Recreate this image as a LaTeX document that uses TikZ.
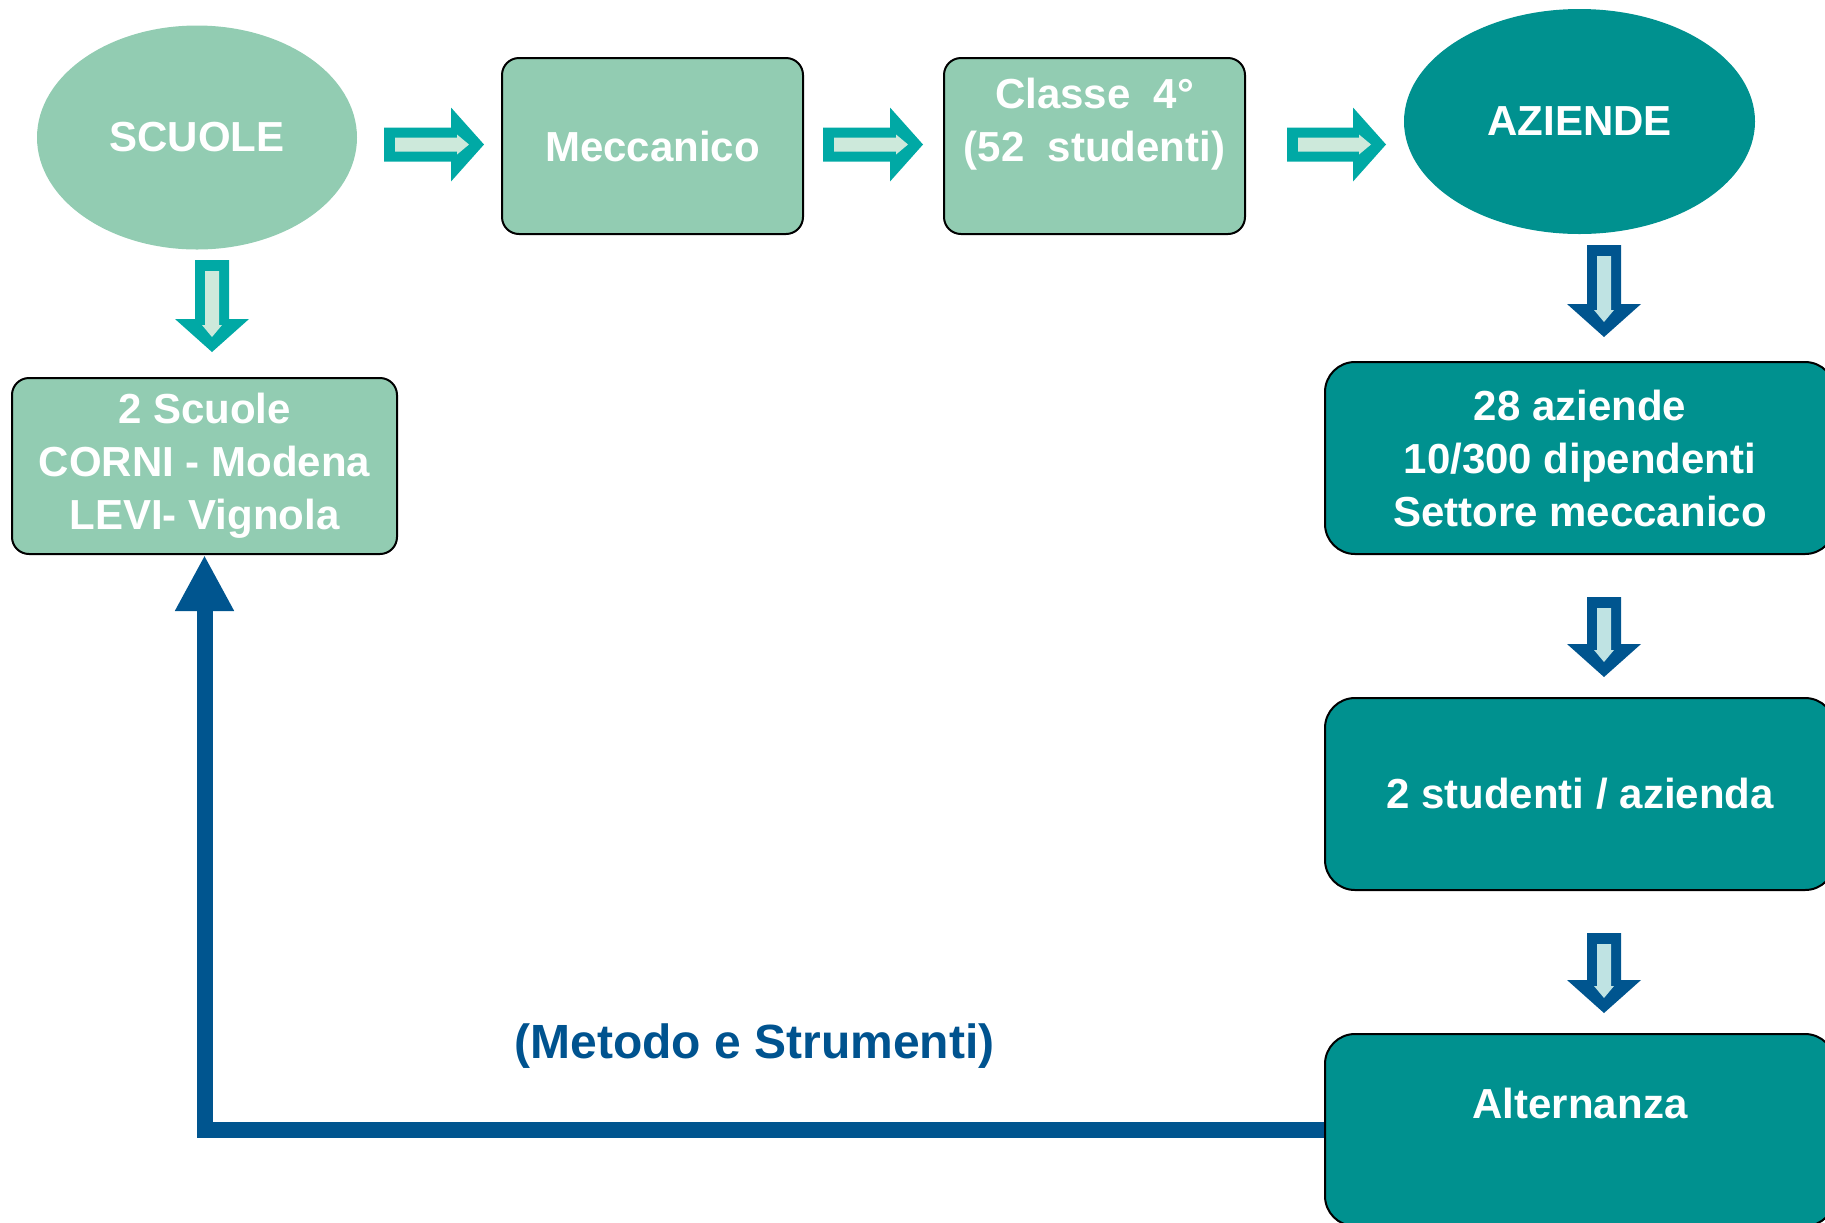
\documentclass[tikz,border=0pt]{standalone}
\usepackage{fontspec}
\setmainfont{Liberation Sans}
\usetikzlibrary{shapes.geometric,arrows.meta}
\definecolor{arrowteal}{HTML}{00A9A5}
\definecolor{arrowtealin}{HTML}{CDE9DB}
\definecolor{arrowblue}{HTML}{00558F}
\definecolor{arrowbluein}{HTML}{BFE3E3}
\definecolor{boxgreen}{HTML}{92CCB2}
\definecolor{boxteal}{HTML}{00918F}
\definecolor{textblue}{HTML}{00538F}
\tikzset{
    greenbox/.style={draw=black,line width=1pt,fill=boxgreen,rounded corners=8.5pt,
        minimum height=88pt,text=white,align=center,inner sep=0pt},
    tealbox/.style={draw=black,line width=1pt,fill=boxteal,rounded corners=15pt,
        minimum width=255pt,minimum height=96pt,text=white,align=center,inner sep=0pt},
    oval/.style={ellipse,fill=#1,text=white,inner sep=0pt},
    fbline/.style={draw=arrowblue,line width=8pt,-{Triangle[length=28pt,width=27.5pt]}},
}
\newcommand\blockarrow[6]{%
% tail x, tail y, angle, length, outer colour, inner colour
    \begin{scope}[shift={(#1,#2)},rotate=#3]
    \fill[#5] (0,-17) -- (#4-33,-17) -- (#4-33,-37) -- (#4,0)
    -- (#4-33,37) -- (#4-33,17) -- (0,17) -- cycle;
    % the light stripe inside
    \fill[#6] (11,-7) -- (#4-27,-7) -- (#4-27,-10) -- (#4-15,0)
    -- (#4-27,10) -- (#4-27,7) -- (11,7) -- cycle;
    \end{scope}}

\begin{document}
\begin{tikzpicture}[x=0.5pt,y=-0.5pt,font=\fontsize{21}{26.5}\selectfont\bfseries]
    \clip (0,0) rectangle (1825,1222);

    % top row
    \node[oval=boxgreen,minimum width=160pt,minimum height=112pt] (scuole) at (197,137.5) {SCUOLE};
    \node[greenbox,minimum width=150.5pt] (mecc) at (652.5,146) {Meccanico};
    \node[greenbox,minimum width=150.5pt] (classe) at (1094.5,146) {Classe\ \ 4°\\(52\ \ studenti)\\\mbox{}};
    \node[oval=boxteal,minimum width=175.5pt,minimum height=112.5pt] (aziende) at (1579.5,121.5) {AZIENDE};

    % left column
    \node[greenbox,minimum width=192.5pt] (dueScuole) at (204.5,466) {2 Scuole\\CORNI - Modena\\LEVI- Vignola};

    % right column
    \node[tealbox] (aziendeNum) at (1580,458) {28 aziende\\10/300 dipendenti\\Settore meccanico};
    \node[tealbox] (studenti) at (1580,794) {2 studenti / azienda};
    \node[tealbox] (alt) at (1580,1130) {Alternanza\\\mbox{}};

    \node[text=textblue,font=\fontsize{24}{28}\selectfont\bfseries] (metodo) at (754.5,1046) {(Metodo e Strumenti)};

    % block arrows
    \blockarrow{384}{144.5}{0}{100}{arrowteal}{arrowtealin}
    \blockarrow{823}{144.5}{0}{100}{arrowteal}{arrowtealin}
    \blockarrow{1287}{144.5}{0}{99}{arrowteal}{arrowtealin}
    \blockarrow{212}{260}{-90}{92}{arrowteal}{arrowtealin}
    \blockarrow{1604}{245}{-90}{92}{arrowblue}{arrowbluein}
    \blockarrow{1604}{597}{-90}{80}{arrowblue}{arrowbluein}
    \blockarrow{1604}{933}{-90}{80}{arrowblue}{arrowbluein}

    % back to the schools
    \draw[fbline] (alt.west) -| (dueScuole.south);
\end{tikzpicture}
\end{document}
